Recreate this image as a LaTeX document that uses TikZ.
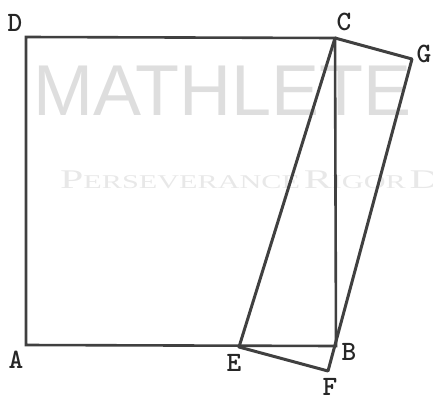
\documentclass[tikz,border=0pt]{standalone}
\usepackage{fontspec}
\setmainfont{Liberation Serif}
\newfontfamily\wmfont{Liberation Sans}
\begin{document}
\begin{tikzpicture}[x=1pt,y=-1pt,
  lbl/.style={font=\ttfamily\bfseries\fontsize{28}{28}\selectfont, text=black!85, inner sep=0pt},
  sq/.style={draw=black!75, line width=2.6pt, line join=miter},
  para/.style={draw=black!75, line width=3pt, line join=round}]
\useasboundingbox (0,0) rectangle (433,399);
\clip (0,0) rectangle (433,399);
% watermark
\node[anchor=base west, inner sep=0pt, text=black!13, font=\wmfont\fontsize{72}{72}\selectfont] (wm1) at (33,115) {MATHLETE};
\node[anchor=base west, inner sep=0pt, text=black!9] (wm2) at (60,188) {\scalebox{1.55}[1]{{\fontsize{27}{27}\selectfont P}{\fontsize{19.5}{20}\selectfont ERSEVERANCE} {\fontsize{27}{27}\selectfont R}{\fontsize{19.5}{20}\selectfont IGOR} {\fontsize{27}{27}\selectfont D}}};
% points
\coordinate (A) at (26,345);
\coordinate (B) at (336,346);
\coordinate (C) at (335,38);
\coordinate (D) at (26,37);
\coordinate (E) at (239,347);
\coordinate (F) at (328,371);
\coordinate (G) at (412,59);
\draw[sq] (A) -- (B) -- (C) -- (D) -- cycle;
\draw[para] (C) -- (G) -- (F) -- (E) -- cycle;
% labels
\node[lbl] (lA) at (16,360) {A};
\node[lbl] (lB) at (349,352) {B};
\node[lbl] (lC) at (344,22) {C};
\node[lbl] (lD) at (15,23) {D};
\node[lbl] (lE) at (234,363) {E};
\node[lbl] (lF) at (330,387) {F};
\node[lbl] (lG) at (424,54) {G};
\end{tikzpicture}
\end{document}
